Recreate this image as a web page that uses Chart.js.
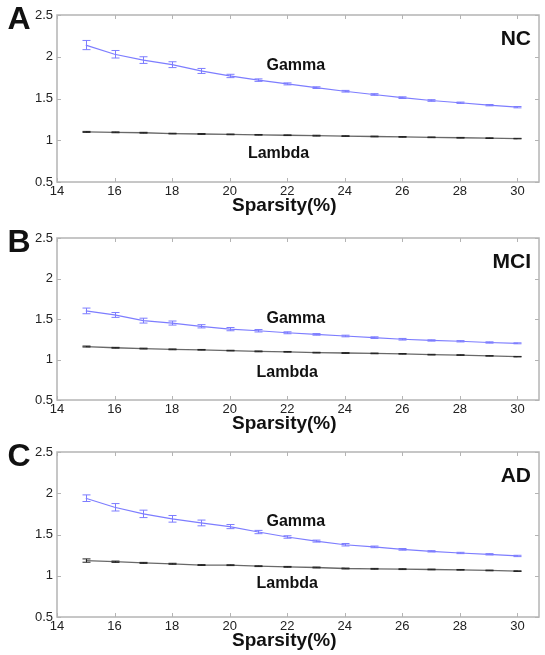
<!DOCTYPE html>
<html lang="en">
<head>
<meta charset="UTF-8">
<title>Gamma and Lambda vs Sparsity</title>
<script src="https://cdn.jsdelivr.net/npm/chart.js"></script>
<style>
  body { margin: 0; background: #fff; }
  #wrap { position: relative; width: 545px; height: 655px; }
  canvas { position: absolute; left: 0; }
</style>
</head>
<body>
<div id="wrap">
  <canvas id="chartA" width="545" height="215" style="top:0px"></canvas>
  <canvas id="chartB" width="545" height="210" style="top:223px"></canvas>
  <canvas id="chartC" width="545" height="216" style="top:437px"></canvas>
</div>

<script>
// sparsity levels (x) and axis ticks
const sparsity = [15, 16, 17, 18, 19, 20, 21, 22, 23, 24, 25, 26, 27, 28, 29, 30];
const xTicks = [14, 16, 18, 20, 22, 24, 26, 28, 30];
const yTicks = [0.5, 1, 1.5, 2, 2.5];

// NC
const gammaNC    = [2.14, 2.03, 1.96, 1.905, 1.83, 1.77, 1.72, 1.675, 1.63, 1.587, 1.548, 1.51, 1.476, 1.449, 1.42, 1.396];
const gammaNCErr = [0.055, 0.045, 0.04, 0.035, 0.03, 0.02, 0.015, 0.012, 0.01, 0.01, 0.01, 0.01, 0.01, 0.008, 0.008, 0.008];
const lambdaNC    = [1.10, 1.095, 1.09, 1.08, 1.075, 1.07, 1.065, 1.06, 1.055, 1.05, 1.045, 1.04, 1.035, 1.03, 1.025, 1.02];
const lambdaNCErr = [0.006, 0.005, 0.005, 0.004, 0.005, 0.004, 0.004, 0.004, 0.005, 0.004, 0.004, 0.004, 0.004, 0.004, 0.004, 0.003];

// MCI
const gammaMCI    = [1.60, 1.55, 1.48, 1.45, 1.41, 1.375, 1.355, 1.33, 1.31, 1.29, 1.27, 1.25, 1.235, 1.225, 1.21, 1.20];
const gammaMCIErr = [0.035, 0.03, 0.03, 0.025, 0.02, 0.02, 0.015, 0.012, 0.01, 0.01, 0.01, 0.01, 0.008, 0.008, 0.008, 0.006];
const lambdaMCI    = [1.16, 1.145, 1.135, 1.125, 1.12, 1.11, 1.10, 1.095, 1.085, 1.08, 1.075, 1.07, 1.06, 1.055, 1.045, 1.035];
const lambdaMCIErr = [0.006, 0.005, 0.005, 0.005, 0.004, 0.004, 0.005, 0.004, 0.004, 0.005, 0.004, 0.004, 0.004, 0.004, 0.003, 0.003];

// AD
const gammaAD    = [1.94, 1.83, 1.75, 1.69, 1.64, 1.596, 1.53, 1.47, 1.42, 1.376, 1.35, 1.32, 1.296, 1.276, 1.26, 1.24];
const gammaADErr = [0.04, 0.045, 0.045, 0.04, 0.035, 0.025, 0.02, 0.015, 0.012, 0.015, 0.01, 0.01, 0.008, 0.008, 0.008, 0.008];
const lambdaAD    = [1.184, 1.17, 1.156, 1.145, 1.13, 1.128, 1.116, 1.108, 1.10, 1.088, 1.084, 1.08, 1.076, 1.072, 1.064, 1.056];
const lambdaADErr = [0.02, 0.008, 0.006, 0.006, 0.005, 0.005, 0.005, 0.005, 0.005, 0.005, 0.005, 0.005, 0.004, 0.004, 0.004, 0.004];

const FONT = '"Liberation Sans", Arial, sans-serif';
const BLUE = 'rgb(125, 125, 255)';
const DARK = 'rgb(105, 105, 105)';
const FRAME = '#b4b4b4';

// error bars, drawn from each dataset's err array through the scales
const errorBars = {
  id: 'errorBars',
  afterDatasetsDraw(chart) {
    const ctx = chart.ctx;
    const xs = chart.scales.x, ys = chart.scales.y;
    chart.data.datasets.forEach(ds => {
      if (!ds.err) return;
      ctx.save();
      ctx.strokeStyle = ds.errColor;
      ctx.lineWidth = 1;
      ds.data.forEach((p, i) => {
        const px = Math.round(xs.getPixelForValue(p.x)) + 0.5;
        const y1 = ys.getPixelForValue(p.y - ds.err[i]);
        const y2 = ys.getPixelForValue(p.y + ds.err[i]);
        ctx.beginPath();
        ctx.moveTo(px, y1); ctx.lineTo(px, y2);
        ctx.moveTo(px - 4, y1); ctx.lineTo(px + 4, y1);
        ctx.moveTo(px - 4, y2); ctx.lineTo(px + 4, y2);
        ctx.stroke();
      });
      ctx.restore();
    });
  }
};

// box, inward ticks, panel letter, group name, curve labels, x title
const decorations = {
  id: 'decorations',
  afterDraw(chart, args, opts) {
    const ctx = chart.ctx;
    const {left, right, top, bottom} = chart.chartArea;
    const xs = chart.scales.x, ys = chart.scales.y;
    ctx.save();
    ctx.strokeStyle = FRAME;
    ctx.lineWidth = 1.5;
    ctx.strokeRect(left, top, right - left, bottom - top);
    ctx.lineWidth = 1;
    ctx.beginPath();
    xTicks.forEach(v => {
      const px = Math.round(xs.getPixelForValue(v)) + 0.5;
      ctx.moveTo(px, bottom); ctx.lineTo(px, bottom - 4);
      ctx.moveTo(px, top); ctx.lineTo(px, top + 4);
    });
    yTicks.forEach(v => {
      const py = Math.round(ys.getPixelForValue(v)) + 0.5;
      ctx.moveTo(left, py); ctx.lineTo(left + 4, py);
      ctx.moveTo(right, py); ctx.lineTo(right - 4, py);
    });
    ctx.stroke();

    ctx.fillStyle = '#111';
    ctx.textBaseline = 'middle';
    ctx.textAlign = 'center';
    ctx.font = 'bold 32px ' + FONT;
    ctx.fillText(opts.letter, 19, top + 5);

    ctx.textAlign = 'right';
    ctx.font = 'bold 21px ' + FONT;
    ctx.fillText(opts.group, right - 8, top + 24);

    ctx.textAlign = 'center';
    ctx.font = 'bold 16px ' + FONT;
    ctx.fillText('Gamma', xs.getPixelForValue(opts.gammaAt[0]), ys.getPixelForValue(opts.gammaAt[1]));
    ctx.fillText('Lambda', xs.getPixelForValue(opts.lambdaAt[0]), ys.getPixelForValue(opts.lambdaAt[1]));

    ctx.font = 'bold 19px ' + FONT;
    ctx.fillText('Sparsity(%)', xs.getPixelForValue(21.9), bottom + 24);
    ctx.restore();
  }
};

function makePanel(id, gamma, gammaErr, lambda, lambdaErr, deco) {
  return new Chart(document.getElementById(id), {
    type: 'line',
    data: {
      datasets: [
        {
          label: 'Gamma',
          data: sparsity.map((x, i) => ({x: x, y: gamma[i]})),
          err: gammaErr,
          errColor: BLUE,
          borderColor: BLUE,
          borderWidth: 1.2,
          pointRadius: 0,
          tension: 0
        },
        {
          label: 'Lambda',
          data: sparsity.map((x, i) => ({x: x, y: lambda[i]})),
          err: lambdaErr,
          errColor: 'rgb(35, 35, 35)',
          borderColor: DARK,
          borderWidth: 1.3,
          pointRadius: 0,
          tension: 0
        }
      ]
    },
    options: {
      responsive: false,
      animation: false,
      devicePixelRatio: 1,
      layout: { padding: { top: 15, right: 6, left: 0, bottom: 0 } },
      plugins: {
        legend: { display: false },
        tooltip: { enabled: false },
        decorations: deco
      },
      scales: {
        x: {
          type: 'linear',
          min: 14,
          max: 30.75,
          grid: { display: false, drawTicks: false },
          border: { display: false },
          afterBuildTicks: s => { s.ticks = xTicks.map(v => ({value: v})); },
          afterFit: s => { s.height = deco.xAxisHeight; },
          ticks: {
            padding: 2,
            color: '#222',
            font: { family: FONT, size: 13 },
            maxRotation: 0,
            callback: v => String(v)
          }
        },
        y: {
          min: 0.5,
          max: 2.5,
          grid: { display: false, drawTicks: false },
          border: { display: false },
          afterBuildTicks: s => { s.ticks = yTicks.map(v => ({value: v})); },
          afterFit: s => { s.width = 57; },
          ticks: {
            padding: 4,
            color: '#222',
            font: { family: FONT, size: 13 },
            callback: v => String(v)
          }
        }
      }
    },
    plugins: [errorBars, decorations]
  });
}

makePanel('chartA', gammaNC, gammaNCErr, lambdaNC, lambdaNCErr,
  { letter: 'A', group: 'NC', gammaAt: [22.3, 1.9], lambdaAt: [21.7, 0.84], xAxisHeight: 33 });
makePanel('chartB', gammaMCI, gammaMCIErr, lambdaMCI, lambdaMCIErr,
  { letter: 'B', group: 'MCI', gammaAt: [22.3, 1.5], lambdaAt: [22.0, 0.84], xAxisHeight: 33 });
makePanel('chartC', gammaAD, gammaADErr, lambdaAD, lambdaADErr,
  { letter: 'C', group: 'AD', gammaAt: [22.3, 1.66], lambdaAt: [22.0, 0.91], xAxisHeight: 36 });
</script>
</body>
</html>
